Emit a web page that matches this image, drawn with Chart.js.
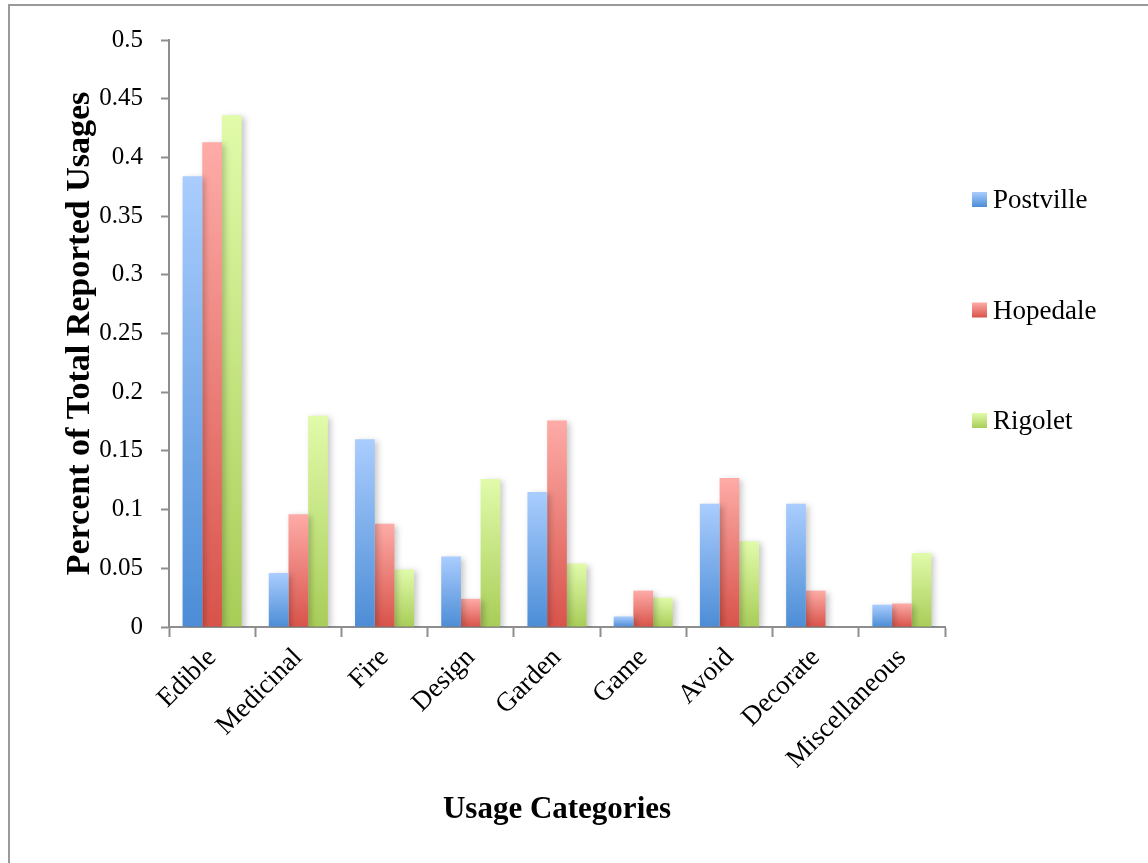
<!DOCTYPE html>
<html>
<head>
<meta charset="utf-8">
<script src="https://cdn.jsdelivr.net/npm/chart.js@4/dist/chart.umd.min.js"></script>
<style>
  body { margin: 0; background: #fff; }
  canvas { display: block; }
</style>
</head>
<body>
<canvas id="usage" width="1148" height="863"></canvas>
<script>
const categories = ['Edible', 'Medicinal', 'Fire', 'Design', 'Garden', 'Game', 'Avoid', 'Decorate', 'Miscellaneous'];
const postville = [0.384, 0.046, 0.160, 0.060, 0.115, 0.009, 0.105, 0.105, 0.019];
const hopedale  = [0.413, 0.096, 0.088, 0.024, 0.176, 0.031, 0.127, 0.031, 0.020];
const rigolet   = [0.436, 0.180, 0.049, 0.126, 0.054, 0.025, 0.073, 0.000, 0.063];
const yTicks = [0, 0.05, 0.1, 0.15, 0.2, 0.25, 0.3, 0.35, 0.4, 0.45, 0.5];

const serif = '"Liberation Serif", "Times New Roman", serif';
const axisGray = '#8e8e8e';

// light at the top of every bar, darker at its base
const palette = {
  Postville: ['#aacdfe', '#4c8dd6'],
  Hopedale:  ['#feaba7', '#d8534a'],
  Rigolet:   ['#e1fbaa', '#a8cd58']
};

function barFill(name) {
  return function (ctx) {
    const chart = ctx.chart;
    const [light, dark] = palette[name];
    if (!chart.chartArea || ctx.raw === undefined) return dark;
    const y = chart.scales.y;
    const top = y.getPixelForValue(ctx.raw);
    const base = y.getPixelForValue(0);
    if (base - top < 1) return dark;
    const g = chart.ctx.createLinearGradient(0, top, 0, base);
    g.addColorStop(0, light);
    g.addColorStop(1, dark);
    return g;
  };
}

const frame = {
  id: 'frame',
  beforeDraw(chart) {
    const c = chart.ctx;
    c.save();
    c.strokeStyle = '#9a9a9a';
    c.lineWidth = 2;
    c.strokeRect(9, 5, 2000, 2000);
    c.restore();
  }
};

const barShadow = {
  id: 'barShadow',
  beforeDatasetsDraw(chart) {
    const c = chart.ctx;
    c.save();
    c.shadowColor = 'rgba(0,0,0,0.22)';
    c.shadowBlur = 6;
    c.shadowOffsetX = 3;
    c.shadowOffsetY = 2;
  },
  afterDatasetsDraw(chart) {
    chart.ctx.restore();
  }
};

const sideLegend = {
  id: 'sideLegend',
  afterDraw(chart) {
    const c = chart.ctx;
    const area = chart.chartArea;
    c.save();
    c.font = '27px ' + serif;
    c.textBaseline = 'middle';
    chart.data.datasets.forEach((ds, i) => {
      const x = area.right + 27;
      const yc = area.top + 160 + i * 110.5;
      const [light, dark] = palette[ds.label];
      const g = c.createLinearGradient(0, yc - 8, 0, yc + 7);
      g.addColorStop(0, light);
      g.addColorStop(1, dark);
      c.fillStyle = g;
      c.fillRect(x, yc - 8, 15, 15);
      c.fillStyle = '#000';
      c.fillText(ds.label, x + 21, yc + 1);
    });
    c.restore();
  }
};

new Chart(document.getElementById('usage'), {
  type: 'bar',
  data: {
    labels: categories,
    datasets: [
      { label: 'Postville', data: postville, backgroundColor: barFill('Postville') },
      { label: 'Hopedale', data: hopedale, backgroundColor: barFill('Hopedale') },
      { label: 'Rigolet', data: rigolet, backgroundColor: barFill('Rigolet') }
    ]
  },
  options: {
    responsive: false,
    animation: false,
    datasets: {
      bar: { categoryPercentage: 0.685, barPercentage: 1.0, borderWidth: 0 }
    },
    layout: { padding: { top: 40, left: 56, right: 203, bottom: 30 } },
    plugins: {
      legend: { display: false },
      tooltip: { enabled: false }
    },
    scales: {
      x: {
        afterFit(scale) { scale.height = 206; },
        grid: { drawOnChartArea: false, tickLength: 10, tickColor: axisGray, tickWidth: 2 },
        border: { color: axisGray, width: 2 },
        ticks: {
          minRotation: 45,
          maxRotation: 45,
          padding: 5,
          color: '#000',
          font: { family: serif, size: 27 }
        },
        title: {
          display: true,
          text: 'Usage Categories',
          color: '#000',
          font: { family: serif, size: 31, weight: 'bold' }
        }
      },
      y: {
        min: 0,
        max: 0.5,
        afterFit(scale) { scale.width = 113; },
        afterBuildTicks(scale) { scale.ticks = yTicks.map(v => ({ value: v })); },
        grid: { drawOnChartArea: false, tickLength: 8, tickColor: axisGray, tickWidth: 2 },
        border: { color: axisGray, width: 2 },
        ticks: {
          padding: 18,
          color: '#000',
          font: { family: serif, size: 25 },
          callback: v => String(+v.toFixed(2))
        },
        title: {
          display: true,
          text: 'Percent of Total Reported Usages',
          color: '#000',
          font: { family: serif, size: 34, weight: 'bold' }
        }
      }
    }
  },
  plugins: [frame, barShadow, sideLegend]
});
</script>
</body>
</html>
